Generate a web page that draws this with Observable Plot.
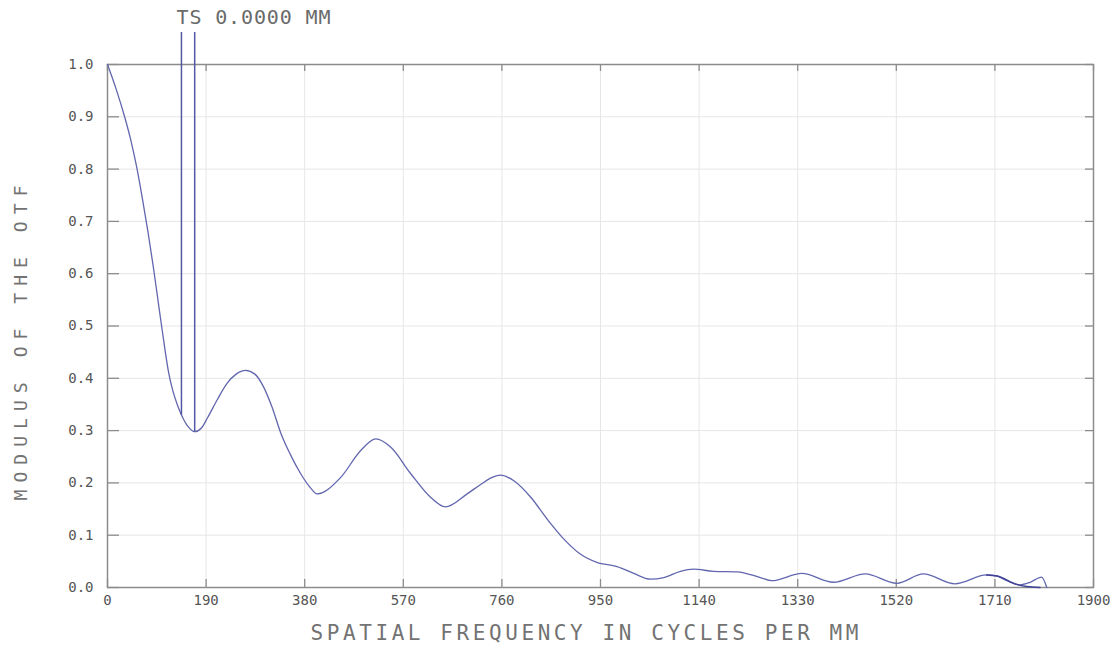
<!DOCTYPE html>
<html>
<head>
<meta charset="utf-8">
<script src="https://cdn.jsdelivr.net/npm/d3@7"></script>
<script src="https://cdn.jsdelivr.net/npm/@observablehq/plot@0.6"></script>
<style>
  html, body { margin: 0; padding: 0; background: #fff; }
  svg { display: block; }
</style>
</head>
<body>
<div id="chart"></div>
<script>
// Tangential curve (spatial frequency, cycles/mm) and MTF modulus
const freq = [0, 17, 33, 45, 56, 67, 78, 88, 100, 110, 118, 126, 134, 143, 155, 168, 181, 193, 212, 230, 248, 266, 284, 300, 317, 334, 352, 372, 390, 404, 449, 488, 517, 546, 584, 623, 651, 693, 719, 738, 757, 783, 816, 847, 879, 911, 943, 982, 1014, 1046, 1072, 1104, 1129, 1168, 1213, 1258, 1280, 1338, 1399, 1460, 1521, 1572, 1633, 1694, 1714, 1733, 1758, 1778, 1800, 1810];
const modT = [1.0, 0.952, 0.90, 0.855, 0.805, 0.745, 0.68, 0.615, 0.53, 0.46, 0.41, 0.376, 0.351, 0.329, 0.308, 0.298, 0.305, 0.325, 0.36, 0.39, 0.408, 0.415, 0.408, 0.385, 0.345, 0.295, 0.255, 0.218, 0.192, 0.179, 0.210, 0.262, 0.284, 0.268, 0.218, 0.172, 0.154, 0.179, 0.197, 0.209, 0.215, 0.204, 0.172, 0.131, 0.093, 0.064, 0.048, 0.040, 0.027, 0.016, 0.019, 0.031, 0.035, 0.031, 0.030, 0.019, 0.013, 0.027, 0.010, 0.026, 0.008, 0.026, 0.007, 0.024, 0.022, 0.013, 0.005, 0.010, 0.020, 0.0];
// Sagittal curve tail, where it separates from the tangential one
const sFreq = [1694, 1714, 1752, 1771, 1797];
const modS = [0.024, 0.022, 0.006, 0.002, 0.0];
// Legend leader lines (start on the curves)
const legendFreq = [142.5, 168];
const legendMod = [0.329, 0.298];

const xTicks = [0, 190, 380, 570, 760, 950, 1140, 1330, 1520, 1710, 1900];
const yTicks = [0, 0.1, 0.2, 0.3, 0.4, 0.5, 0.6, 0.7, 0.8, 0.9, 1.0];
const title = "TS 0.0000 MM";
const xLabel = "SPATIAL FREQUENCY IN CYCLES PER MM";
const yLabel = "MODULUS OF THE OTF";

const T = freq.map((f, i) => ({f, m: modT[i]}));
const S = sFreq.map((f, i) => ({f, m: modS[i]}));
const legend = legendFreq.map((f, i) => ({f, m: legendMod[i]}));

const font = "'DejaVu Sans Mono', monospace";
const frameColor = "#8c8c8c";
const curveColor = "#6266ae";

const chart = Plot.plot({
  width: 1114,
  height: 645,
  marginLeft: 107,
  marginRight: 21,
  marginTop: 64,
  marginBottom: 58,
  style: {fontFamily: font, background: "#fff"},
  x: {domain: [0, 1900]},
  y: {domain: [0, 1]},
  marks: [
    Plot.gridX(xTicks, {stroke: "#e6e6e6", strokeOpacity: 1}),
    Plot.gridY(yTicks, {stroke: "#e6e6e6", strokeOpacity: 1}),
    Plot.frame({stroke: frameColor, strokeWidth: 1.5}),
    // inward tick marks on all four sides
    Plot.ruleX(xTicks, {x: d => d, y1: 0, y2: 0, insetTop: -8, stroke: frameColor, strokeWidth: 1.3}),
    Plot.ruleX(xTicks, {x: d => d, y1: 1, y2: 1, insetBottom: -7, stroke: frameColor, strokeWidth: 1.3}),
    Plot.ruleY(yTicks, {y: d => d, x1: 0, x2: 0, insetRight: -12, stroke: frameColor, strokeWidth: 1.3}),
    Plot.ruleY(yTicks, {y: d => d, x1: 1900, x2: 1900, insetLeft: -8, stroke: frameColor, strokeWidth: 1.3}),
    Plot.axisX(xTicks, {tickSize: 0, tickPadding: 8, label: null, tickFormat: d => String(d), fontSize: 14, fill: "#555", fontFamily: font}),
    Plot.axisY(yTicks, {tickSize: 0, tickPadding: 14, label: null, tickFormat: d3.format(".1f"), fontSize: 14, fill: "#555", fontFamily: font}),
    Plot.line(T, {x: "f", y: "m", stroke: curveColor, strokeWidth: 1.3, curve: "monotone-x"}),
    Plot.line(S, {x: "f", y: "m", stroke: "#3f4296", strokeWidth: 1.5, curve: "monotone-x"}),
    Plot.ruleX(legend, {x: "f", y1: () => 1, y2: "m", insetTop: -32, stroke: "#5458a4", strokeWidth: 1.5}),
    Plot.text([title], {frameAnchor: "top-left", dx: 69, dy: -47, textAnchor: "start", lineAnchor: "middle", fontSize: 20, fill: "#6a6a6a", fontFamily: font}),
    Plot.text([xLabel], {frameAnchor: "bottom", dx: -16, dy: 46, textAnchor: "middle", lineAnchor: "middle", fontSize: 21, fill: "#737373", fontFamily: font}),
    Plot.text([yLabel], {frameAnchor: "left", dx: -86, dy: 17, rotate: -90, textAnchor: "middle", lineAnchor: "middle", fontSize: 18, fill: "#737373", fontFamily: font})
  ]
});

const sel = d3.select(chart);
const fit = (txt, len) => sel.selectAll("text")
  .filter(function () { return this.textContent === txt; })
  .attr("textLength", len).attr("lengthAdjust", "spacing");
fit(xLabel, 548);
fit(yLabel, 315);
fit(title, 154);

document.getElementById("chart").append(chart);
</script>
</body>
</html>
